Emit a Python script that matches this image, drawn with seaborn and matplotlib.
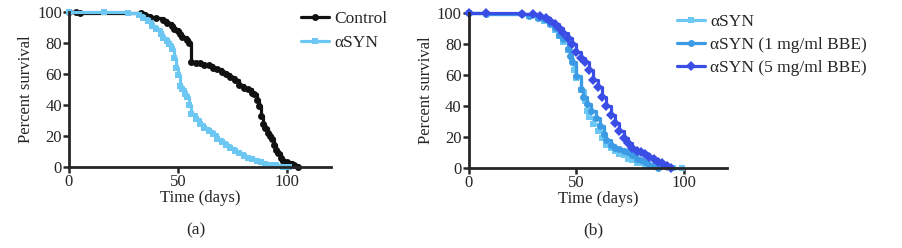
import numpy as np
import pandas as pd
import matplotlib
matplotlib.use('Agg')
import matplotlib.pyplot as plt
import seaborn as sns

# panel (a) survival data
ctrl_days = [0, 3, 5, 33, 35, 37, 40, 43, 45, 47, 48, 50, 51, 52, 54, 55, 56, 58, 60, 62, 64, 66, 68, 70,
             72, 74, 76, 78, 80, 82, 84, 85, 86, 87, 88, 89, 90, 91, 92, 93, 94, 95, 96, 97, 98, 100, 102, 103, 105]
ctrl_surv = [100, 100, 99, 99, 98, 97, 96, 95, 93, 91, 89, 88, 86, 84, 82, 80, 68, 67, 67, 66, 66, 64, 63, 61,
             60, 58, 56, 53, 51, 50, 48, 47, 43, 39, 33, 28, 25, 22, 20, 18, 14, 11, 9, 6, 4, 3, 2, 1, 0]
syn_days = [0, 16, 27, 32, 34, 36, 38, 40, 42, 43, 45, 46, 47, 48, 49, 50, 51, 52, 53, 54, 55, 56, 58, 60,
            62, 64, 66, 68, 70, 72, 74, 76, 78, 80, 82, 84, 86, 88, 90, 92, 95, 98, 101]
syn_surv = [100, 100, 99, 98, 96, 94, 91, 89, 86, 83, 81, 79, 76, 70, 64, 59, 52, 50, 47, 45, 40, 34, 31, 28,
            25, 23, 21, 18, 16, 14, 12, 10, 9, 7, 6, 5, 4, 3, 2, 1, 1, 0, 0]

# panel (b)
b_syn_days = [0, 8, 25, 28, 32, 35, 38, 40, 42, 44, 46, 48, 49, 50, 52, 54, 55, 56, 58, 60, 62, 64, 66, 68,
              70, 72, 74, 76, 78, 80, 82, 84, 86, 90, 95, 99]
b_syn_surv = [100, 99, 99, 98, 97, 95, 93, 89, 85, 81, 76, 69, 63, 58, 50, 43, 37, 33, 28, 24, 19, 15, 13, 11,
              9, 8, 6, 5, 3, 3, 2, 1, 1, 1, 0, 0]
b_1mg_days = [0, 8, 25, 28, 32, 35, 38, 40, 42, 44, 46, 47, 48, 50, 52, 53, 55, 57, 59, 61, 63, 64, 66, 68,
              70, 72, 74, 76, 78, 80, 82, 84, 86, 88]
b_1mg_surv = [100, 99, 99, 98, 97, 96, 93, 90, 86, 83, 77, 72, 68, 59, 51, 46, 41, 37, 32, 27, 22, 18, 15, 13,
              12, 11, 10, 8, 6, 5, 4, 2, 1, 0]
b_5mg_days = [0, 8, 25, 30, 33, 36, 38, 40, 42, 44, 46, 48, 50, 52, 54, 56, 58, 60, 62, 64, 66, 68, 70, 72,
              74, 76, 78, 80, 82, 84, 86, 88, 90, 92, 94]
b_5mg_surv = [100, 100, 99, 99, 98, 97, 95, 93, 90, 87, 84, 80, 75, 71, 68, 63, 57, 52, 46, 40, 34, 29, 24, 19,
              16, 13, 11, 10, 9, 7, 6, 4, 3, 1, 0]

df_a = pd.concat([
    pd.DataFrame({"days": ctrl_days, "surv": ctrl_surv, "group": "Control"}),
    pd.DataFrame({"days": syn_days, "surv": syn_surv, "group": "\u03b1SYN"}),
])
df_b = pd.concat([
    pd.DataFrame({"days": b_syn_days, "surv": b_syn_surv, "group": "\u03b1SYN"}),
    pd.DataFrame({"days": b_1mg_days, "surv": b_1mg_surv, "group": "\u03b1SYN (1 mg/ml BBE)"}),
    pd.DataFrame({"days": b_5mg_days, "surv": b_5mg_surv, "group": "\u03b1SYN (5 mg/ml BBE)"}),
])

sns.set_style("ticks")
plt.rcParams['font.family'] = ['Liberation Serif', 'DejaVu Serif']

fig = plt.figure(figsize=(9.03, 2.48), dpi=100)
ax_a = fig.add_axes([0.0764, 0.327, 0.290, 0.625])
ax_b = fig.add_axes([0.519, 0.323, 0.286, 0.625])

pal_a = {"Control": "#111111", "\u03b1SYN": "#6cc8f2"}
mk_a = {"Control": "o", "\u03b1SYN": "s"}
pal_b = {"\u03b1SYN": "#6cc8f2", "\u03b1SYN (1 mg/ml BBE)": "#3d9be6", "\u03b1SYN (5 mg/ml BBE)": "#3a4ee6"}
mk_b = {"\u03b1SYN": "s", "\u03b1SYN (1 mg/ml BBE)": "o", "\u03b1SYN (5 mg/ml BBE)": "D"}

sns.lineplot(data=df_a, x="days", y="surv", hue="group", style="group", palette=pal_a, markers=mk_a,
             dashes=False, drawstyle="steps-post", linewidth=2.3, markersize=5, markeredgewidth=0,
             estimator=None, sort=False, ax=ax_a)
sns.lineplot(data=df_b, x="days", y="surv", hue="group", style="group", palette=pal_b, markers=mk_b,
             dashes=False, drawstyle="steps-post", linewidth=2.3, markersize=5, markeredgewidth=0,
             estimator=None, sort=False, ax=ax_b)

for ax in (ax_a, ax_b):
    ax.set_xlim(0, 120)
    ax.set_ylim(0, 100)
    ax.set_xticks([0, 50, 100])
    ax.set_yticks([0, 20, 40, 60, 80, 100])
    ax.tick_params(labelsize=12, width=1.8, length=4, pad=1)
    for s in ("left", "bottom"):
        ax.spines[s].set_linewidth(2)
    sns.despine(ax=ax)
    ax.set_xlabel("Time (days)", fontsize=12, labelpad=0)
    ax.set_ylabel("Percent survival", fontsize=12, labelpad=2)
    ax.patch.set_alpha(0)
    for ln in ax.lines:
        ln.set_clip_on(False)

ax_a.legend(loc="upper left", bbox_to_anchor=(0.86, 1.05), frameon=False, fontsize=12.5,
            handlelength=1.6, handletextpad=0.3, labelspacing=0.45, borderaxespad=0)
ax_b.legend(loc="upper left", bbox_to_anchor=(0.78, 1.04), frameon=False, fontsize=12.5,
            handlelength=1.6, handletextpad=0.3, labelspacing=0.4, borderaxespad=0)

fig.text(0.217, 0.072, "(a)", ha="center", va="center", fontsize=12.5)
fig.text(0.657, 0.072, "(b)", ha="center", va="center", fontsize=12.5)

fig.savefig("out.png", dpi=100)
